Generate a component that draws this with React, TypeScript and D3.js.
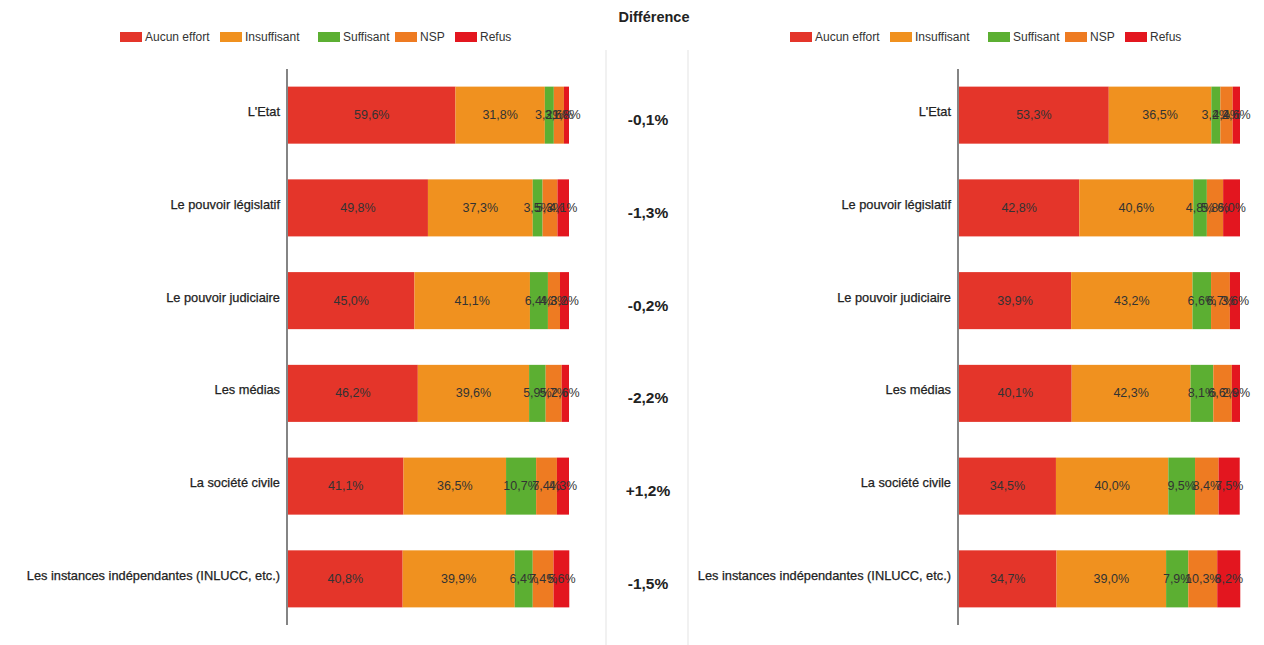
import React from "react";
import * as d3 from "d3";

const categories = [
  "L'Etat",
  "Le pouvoir législatif",
  "Le pouvoir judiciaire",
  "Les médias",
  "La société civile",
  "Les instances indépendantes (INLUCC, etc.)",
];

const seriesNames = ["Aucun effort", "Insuffisant", "Suffisant", "NSP", "Refus"];
const seriesColors = ["#E4352A", "#F0911F", "#5CAF32", "#EE7B22", "#E3161F"];

// Left chart values (per category, per series)
const leftAucun = [59.6, 49.8, 45.0, 46.2, 41.1, 40.8];
const leftInsuff = [31.8, 37.3, 41.1, 39.6, 36.5, 39.9];
const leftSuff = [3.2, 3.5, 6.4, 5.9, 10.7, 6.4];
const leftNSP = [3.6, 5.3, 4.3, 5.7, 7.4, 7.4];
const leftRefus = [1.8, 4.1, 3.2, 2.6, 4.3, 5.6];

// Right chart values
const rightAucun = [53.3, 42.8, 39.9, 40.1, 34.5, 34.7];
const rightInsuff = [36.5, 40.6, 43.2, 42.3, 40.0, 39.0];
const rightSuff = [3.2, 4.8, 6.6, 8.1, 9.5, 7.9];
const rightNSP = [4.4, 5.8, 6.7, 6.6, 8.4, 10.3];
const rightRefus = [2.6, 6.0, 3.6, 2.9, 7.5, 8.2];

const differences = ["-0,1%", "-1,3%", "-0,2%", "-2,2%", "+1,2%", "-1,5%"];

const FONT = "Arial, 'Liberation Sans', Helvetica, sans-serif";

const fmt = (v: number) => v.toFixed(1).replace(".", ",") + "%";

type PanelProps = {
  series: number[][];
  axisX: number;
  endX: number;
  legendX: number;
};

const yScale = d3
  .scaleBand<string>()
  .domain(categories)
  .range([69, 625])
  .paddingInner(0.385)
  .paddingOuter(0.19);

function Legend({ x }: { x: number }) {
  const offsets = [0, 100, 198, 275, 335];
  return (
    <g transform={`translate(${x},37)`}>
      {seriesNames.map((name, i) => (
        <g key={name} transform={`translate(${offsets[i]},0)`}>
          <rect x={0} y={-5} width={22} height={10} fill={seriesColors[i]} />
          <text x={25} y={4} fontSize={12} fill="#333" fontFamily={FONT}>
            {name}
          </text>
        </g>
      ))}
    </g>
  );
}

function Panel({ series, axisX, endX, legendX }: PanelProps) {
  const x = d3.scaleLinear().domain([0, 100]).range([axisX + 1, endX]);
  const stackData = categories.map((c, ci) => {
    const row: Record<string, number | string> = { cat: c };
    seriesNames.forEach((s, si) => (row[s] = series[si][ci]));
    return row;
  });
  const stack = d3.stack<Record<string, number | string>>().keys(seriesNames)(stackData as any);
  const bw = yScale.bandwidth();
  return (
    <g>
      <Legend x={legendX} />
      {stack.map((layer, si) => (
        <g key={seriesNames[si]}>
          {layer.map((d, ci) => {
            const y0 = yScale(categories[ci])!;
            return (
              <rect
                key={ci}
                x={x(d[0])}
                y={y0}
                width={Math.max(0, x(d[1]) - x(d[0]))}
                height={bw}
                fill={seriesColors[si]}
              />
            );
          })}
        </g>
      ))}
      {stack.map((layer, si) => (
        <g key={"t" + seriesNames[si]}>
          {layer.map((d, ci) => {
            const y0 = yScale(categories[ci])!;
            return (
              <text
                key={ci}
                x={(x(d[0]) + x(d[1])) / 2}
                y={y0 + bw / 2 + 4}
                textAnchor="middle"
                fontSize={12.5}
                fill="#333"
                fontFamily={FONT}
              >
                {fmt(series[si][ci])}
              </text>
            );
          })}
        </g>
      ))}
      <line x1={axisX} x2={axisX} y1={69} y2={625} stroke="#333" strokeWidth={1.2} />
      {categories.map((c) => (
        <text
          key={c}
          x={axisX - 7}
          y={yScale(c)! + bw / 2 + 1}
          textAnchor="end"
          fontSize={12.8}
          fill="#222"
          stroke="#222"
          strokeWidth={0.25}
          fontFamily={FONT}
        >
          {c}
        </text>
      ))}
    </g>
  );
}

export default function App() {
  const bw = yScale.bandwidth();
  return (
    <svg
      width={1264}
      height={645}
      style={{ position: "absolute", left: 0, top: 0, background: "#fff" }}
    >
      <rect x={0} y={0} width={1264} height={645} fill="#fff" />
      <Panel
        series={[leftAucun, leftInsuff, leftSuff, leftNSP, leftRefus]}
        axisX={287}
        endX={569}
        legendX={120}
      />
      <Panel
        series={[rightAucun, rightInsuff, rightSuff, rightNSP, rightRefus]}
        axisX={958}
        endX={1240}
        legendX={790}
      />
      <text x={654} y={22} textAnchor="middle" fontSize={14.5} fontWeight="bold" fill="#222" fontFamily={FONT}>
        Différence
      </text>
      <line x1={606} x2={606} y1={50} y2={645} stroke="#e3e3e3" strokeWidth={1} />
      <line x1={688} x2={688} y1={50} y2={645} stroke="#e3e3e3" strokeWidth={1} />
      {categories.map((c, i) => (
        <text
          key={c}
          x={648}
          y={yScale(c)! + bw / 2 + 10}
          textAnchor="middle"
          fontSize={15.5}
          fontWeight="bold"
          fill="#222"
          fontFamily={FONT}
        >
          {differences[i]}
        </text>
      ))}
    </svg>
  );
}
